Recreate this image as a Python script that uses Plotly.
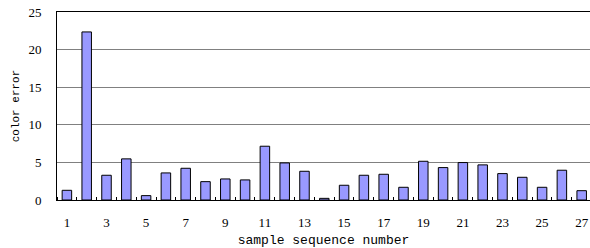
import plotly.graph_objects as go

samples = list(range(1, 28))
color_error = [1.29, 22.35, 3.29, 5.47, 0.58, 3.6, 4.22, 2.44, 2.8, 2.67,
               7.15, 4.93, 3.82, 0.22, 1.96, 3.29, 3.42, 1.69, 5.15, 4.31,
               4.98, 4.67, 3.51, 3.02, 1.69, 3.96, 1.24]
x_tick_labels = [str(i) for i in range(1, 28, 2)]
y_ticks = [0, 5, 10, 15, 20, 25]

fig = go.Figure(go.Bar(
    x=samples, y=color_error, width=0.48,
    marker=dict(color="#9999FF", line=dict(color="black", width=1)),
))

fig.update_layout(
    width=590, height=248,
    margin=dict(l=57, r=0, t=12, b=48),
    paper_bgcolor="white", plot_bgcolor="white",
    showlegend=False,
    font=dict(family="Liberation Serif", size=13, color="black"),
)
fig.update_xaxes(
    automargin=False,
    range=[0.5, 27.42],
    tickvals=[int(v) for v in x_tick_labels], ticktext=x_tick_labels,
    ticks="", ticklabelstandoff=10,
    showline=True, linecolor="black", linewidth=1, mirror=True,
    showgrid=False, zeroline=False,
    minor=dict(tickvals=[i + 0.5 for i in range(0, 28)], ticks="inside",
               ticklen=3, tickcolor="black", tickwidth=1, showgrid=False),
    title=dict(text="sample sequence number", standoff=8,
               font=dict(family="Liberation Mono", size=13)),
)
fig.update_yaxes(
    automargin=False,
    range=[0, 25], tickvals=y_ticks,
    ticks="", ticklabelstandoff=12,
    showline=True, linecolor="black", linewidth=1,
    showgrid=True, gridcolor="#808080", gridwidth=1,
    zeroline=False,
    title=dict(text="color error", standoff=6,
               font=dict(family="Liberation Mono", size=11)),
)

fig.write_html("out.html",
               config={"displayModeBar": False},
               post_script="document.body.style.margin='0';document.body.style.overflow='hidden';")
